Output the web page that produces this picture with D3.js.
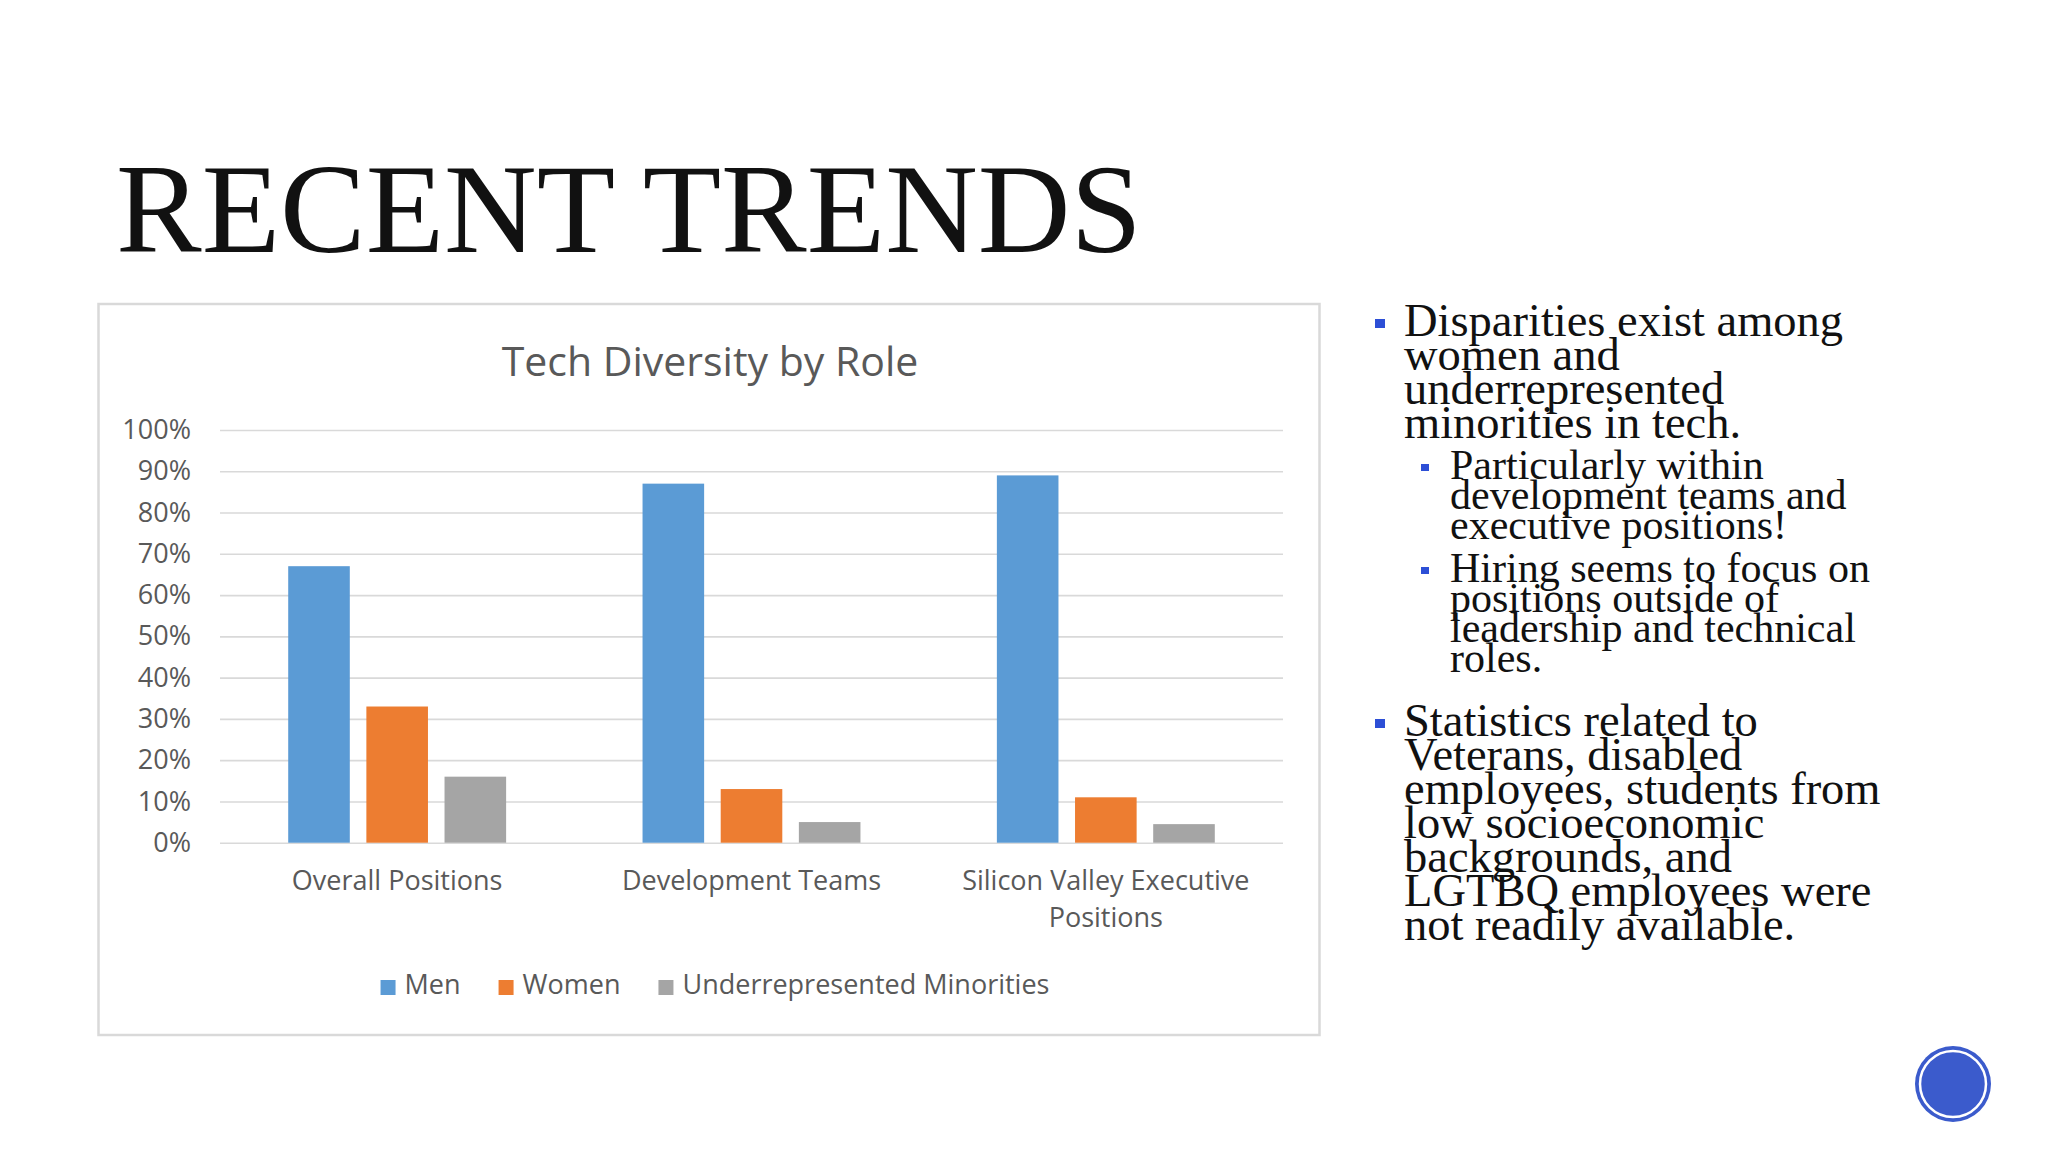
<!DOCTYPE html>
<html>
<head>
<meta charset="utf-8">
<script src="https://cdn.jsdelivr.net/npm/d3@7/dist/d3.min.js"></script>
<style>
  html, body { margin: 0; padding: 0; background: #ffffff; }
  svg { display: block; }
</style>
</head>
<body>
<svg id="slide" width="2048" height="1152"></svg>
<script>
// ---------------- DATA ----------------
const categories = ["Overall Positions", "Development Teams", "Silicon Valley Executive Positions"];
const seriesNames = ["Men", "Women", "Underrepresented Minorities"];
const men = [67, 87, 89];
const women = [33, 13, 11];
const minorities = [16, 5, 4.5];
const yTicks = [0, 10, 20, 30, 40, 50, 60, 70, 80, 90, 100];
const chartTitle = "Tech Diversity by Role";
const slideTitle = "RECENT TRENDS";
const bulletLevels = [0, 1, 1, 0];
const bulletText = [
  ["Disparities exist among", "women and", "underrepresented", "minorities in tech."],
  ["Particularly within", "development teams and", "executive positions!"],
  ["Hiring seems to focus on", "positions outside of", "leadership and technical", "roles."],
  ["Statistics related to", "Veterans, disabled", "employees, students from", "low socioeconomic", "backgrounds, and", "LGTBQ employees were", "not readily available."]
];

// ---------------- STYLE / LAYOUT ----------------
const colors = ["#5b9bd5", "#ed7d31", "#a5a5a5"];
const textGrey = "#595959";
const gridGrey = "#d9d9d9";
const sansFont = "'Open Sans', 'Noto Sans', sans-serif";
const serifFont = "'Liberation Serif', 'DejaVu Serif', serif";

const svg = d3.select("#slide");

// Slide title
svg.append("text")
  .attr("x", 116).attr("y", 252)
  .attr("font-family", serifFont)
  .attr("font-size", 126)
  .attr("fill", "#111111")
  .attr("textLength", 1026)
  .attr("lengthAdjust", "spacingAndGlyphs")
  .text(slideTitle);

// Chart frame
const frame = { x: 98.5, y: 304, w: 1221, h: 731 };
svg.append("rect")
  .attr("x", frame.x).attr("y", frame.y)
  .attr("width", frame.w).attr("height", frame.h)
  .attr("fill", "#ffffff")
  .attr("stroke", gridGrey).attr("stroke-width", 2.5);

// Chart title
svg.append("text")
  .attr("x", frame.x + frame.w / 2 + 1).attr("y", 376)
  .attr("text-anchor", "middle")
  .attr("font-family", sansFont)
  .attr("font-size", 41)
  .attr("fill", textGrey)
  .text(chartTitle);

// Plot area
const plot = { left: 220, right: 1283, top: 430, bottom: 842.7 };

const y = d3.scaleLinear().domain([0, 100]).range([plot.bottom, plot.top]);
const x0 = d3.scaleBand().domain(categories).range([plot.left, plot.right]).paddingInner(0).paddingOuter(0);
const groupRatio = 0.615;
const x1 = d3.scaleBand().domain(seriesNames)
  .range([0, x0.bandwidth() * groupRatio])
  .paddingInner(0.212).paddingOuter(0);
const groupOffset = (x0.bandwidth() - x0.bandwidth() * groupRatio) / 2;

// Gridlines
const grid = svg.append("g")
  .attr("transform", `translate(${plot.left},0)`)
  .call(d3.axisLeft(y).tickValues(yTicks).tickSize(-(plot.right - plot.left)).tickFormat(""));
grid.select(".domain").remove();
grid.selectAll(".tick line").attr("stroke", gridGrey).attr("stroke-width", 1.6);

// Y axis labels
const yAxis = svg.append("g")
  .attr("transform", `translate(${plot.left},0)`)
  .call(d3.axisLeft(y).tickValues(yTicks).tickSize(0).tickPadding(29).tickFormat(d => d + "%"));
yAxis.select(".domain").remove();
yAxis.selectAll("text")
  .attr("font-family", sansFont).attr("font-size", 27).attr("fill", textGrey);

// Bars
const seriesValues = [men, women, minorities];
const barData = [];
categories.forEach((c, ci) => {
  seriesNames.forEach((s, si) => {
    barData.push({ cat: c, series: s, si: si, value: seriesValues[si][ci] });
  });
});
svg.append("g").selectAll("rect")
  .data(barData)
  .join("rect")
  .attr("x", d => x0(d.cat) + groupOffset + x1(d.series))
  .attr("y", d => y(d.value))
  .attr("width", x1.bandwidth())
  .attr("height", d => y(0) - y(d.value))
  .attr("fill", d => colors[d.si]);

// X axis labels
const xAxis = svg.append("g")
  .attr("transform", `translate(0,${plot.bottom})`)
  .call(d3.axisBottom(x0).tickSize(0).tickPadding(0));
xAxis.select(".domain").remove();
xAxis.selectAll("text")
  .attr("font-family", sansFont).attr("font-size", 27).attr("fill", textGrey)
  .attr("y", 0).attr("dy", 0)
  .each(function(d) {
    const t = d3.select(this);
    const words = d.split(" ");
    const maxW = x0.bandwidth() - 30;
    t.text(null);
    let lines = [];
    let cur = [];
    const probe = t.append("tspan");
    words.forEach(w => {
      const test = cur.concat([w]).join(" ");
      probe.text(test);
      if (probe.node().getComputedTextLength() > maxW && cur.length) {
        lines.push(cur.join(" "));
        cur = [w];
      } else {
        cur.push(w);
      }
    });
    lines.push(cur.join(" "));
    probe.remove();
    lines.forEach((ln, i) => {
      t.append("tspan").attr("x", 0).attr("y", 47 + i * 37).text(ln);
    });
  });

// Legend
const legend = svg.append("g");
const legendItems = legend.selectAll("g").data(seriesNames).join("g");
legendItems.append("rect")
  .attr("x", 0).attr("y", -14).attr("width", 15).attr("height", 15)
  .attr("fill", (d, i) => colors[i]);
legendItems.append("text")
  .attr("x", 24).attr("y", 0)
  .attr("font-family", sansFont).attr("font-size", 27).attr("fill", textGrey)
  .text(d => d);
let lx = 0;
const positions = [];
legendItems.each(function() {
  const w = 24 + d3.select(this).select("text").node().getComputedTextLength();
  positions.push(lx);
  lx += w + 38;
});
const legendW = lx - 38;
legendItems.attr("transform", (d, i) => `translate(${positions[i]},0)`);
legend.attr("transform", `translate(${frame.x + frame.w / 2 - legendW / 2 + 6},994)`);

// Bullets
const bulletColor = "#2d4fd6";
const levelStyle = [
  { textX: 1404, markX: 1375, mark: 10, size: 46.5, lh: 34, markDy: -17 },
  { textX: 1450, markX: 1421, mark: 8, size: 42, lh: 30, markDy: -15 }
];
const spaceBefore = [0, 11, 13, 30];
const bulletG = svg.append("g");
let baseline = 336;
bulletText.forEach((lines, pi) => {
  const st = levelStyle[bulletLevels[pi]];
  if (pi > 0) baseline = baseline + st.lh + spaceBefore[pi];
  bulletG.append("rect")
    .attr("x", st.markX).attr("y", baseline + st.markDy)
    .attr("width", st.mark).attr("height", st.mark - 1)
    .attr("fill", bulletColor);
  const t = bulletG.append("text")
    .attr("font-family", serifFont).attr("font-size", st.size).attr("fill", "#111111");
  lines.forEach((ln, i) => {
    t.append("tspan").attr("x", st.textX).attr("y", baseline + i * st.lh).text(ln);
  });
  baseline = baseline + (lines.length - 1) * st.lh;
});

// Decorative circle (bottom right)
svg.append("circle").attr("cx", 1953).attr("cy", 1084).attr("r", 38).attr("fill", "#3b5bcc");
svg.append("circle").attr("cx", 1953).attr("cy", 1084).attr("r", 33)
  .attr("fill", "none").attr("stroke", "#ffffff").attr("stroke-width", 2.5);
</script>
</body>
</html>
